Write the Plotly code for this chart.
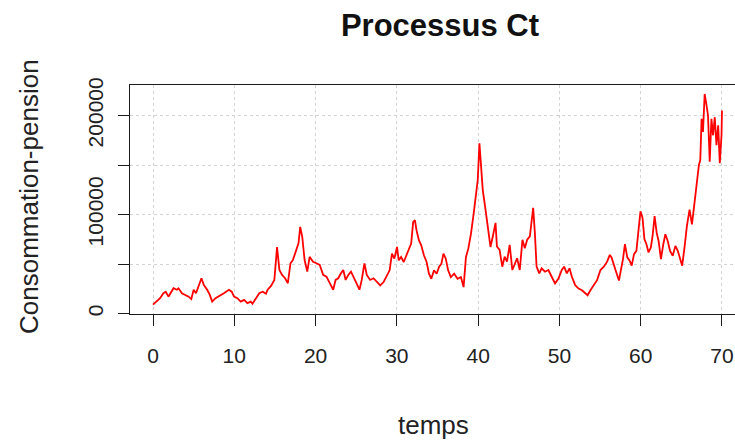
import plotly.graph_objects as go

# Time axis (years) and consumption-pension process Ct (in thousands)
temps = [
    0.0, 0.46, 0.87, 1.28, 1.57, 1.90, 2.23, 2.52, 2.94, 3.14, 3.56, 3.97, 4.38, 4.71,
    5.0, 5.29, 5.62, 5.96, 6.24, 6.66, 6.99, 7.28, 7.69, 8.19, 8.72, 9.34, 9.68, 9.97,
    10.38, 10.79, 11.21, 11.62, 12.03, 12.24, 12.66, 13.07, 13.49, 13.9, 14.1, 14.52,
    14.93, 15.26, 15.55, 15.88, 16.25, 16.59, 16.91, 17.21, 17.62, 17.9, 18.11, 18.36,
    18.65, 18.98, 19.27, 19.69, 20.1, 20.51, 20.93, 21.34, 21.75, 22.17, 22.46, 22.79,
    23.12, 23.41, 23.7, 24.03, 24.36, 24.65, 25.06, 25.4, 25.68, 26.01, 26.3, 26.71,
    27.13, 27.54, 27.95, 28.37, 28.78, 29.11, 29.4, 29.69, 30.02, 30.23, 30.52, 30.85,
    31.18, 31.47, 31.76, 32.01, 32.22, 32.42, 32.71, 33.0, 33.33, 33.66, 33.95, 34.24,
    34.57, 34.9, 35.19, 35.48, 35.73, 36.02, 36.31, 36.64, 37.05, 37.47, 37.88, 38.21,
    38.5, 38.79, 39.12, 39.45, 39.74, 39.95, 40.16, 40.36, 40.57, 40.86, 41.19, 41.52,
    41.81, 42.14, 42.31, 42.64, 42.97, 43.26, 43.55, 43.88, 44.21, 44.5, 44.79, 45.12,
    45.45, 45.74, 46.03, 46.36, 46.57, 46.77, 46.98, 47.19, 47.52, 47.81, 48.22, 48.64,
    49.05, 49.46, 49.88, 50.29, 50.58, 50.91, 51.24, 51.53, 51.94, 52.36, 52.77, 53.18,
    53.47, 53.81, 54.22, 54.63, 55.05, 55.46, 55.87, 56.2, 56.41, 56.7, 56.99, 57.32,
    57.57, 57.82, 58.06, 58.35, 58.64, 58.89, 59.18, 59.47, 59.72, 59.97, 60.22, 60.46,
    60.71, 60.96, 61.25, 61.46, 61.71, 61.96, 62.2, 62.49, 62.78, 63.03, 63.32, 63.61,
    63.94, 64.27, 64.56, 64.85, 65.1, 65.39, 65.68, 66.01, 66.3, 66.5, 66.75, 67.0,
    67.16, 67.33, 67.49, 67.66, 67.87, 68.07, 68.28, 68.49, 68.7, 68.9, 69.11, 69.32,
    69.53, 69.73, 69.94, 70.0,
]

ct_milliers = [
    9.0, 12.0, 15.5, 20.5, 22.0, 17.0, 21.5, 25.5, 24.0, 25.5, 20.5, 18.8, 17.0, 14.5,
    24.0, 20.5, 28.9, 35.6, 28.9, 24.0, 18.8, 12.0, 15.5, 17.8, 20.5, 24.0, 22.0, 17.0,
    15.5, 12.0, 13.7, 10.5, 12.0, 9.8, 15.5, 20.5, 22.0, 20.0, 24.0, 27.9,
    33.9, 67.0, 44.0, 39.0, 35.6, 30.6, 50.7, 54.0, 64.0, 70.8, 87.5, 77.5,
    54.0, 42.3, 57.3, 52.3, 50.7, 49.0, 39.0, 37.2, 30.6, 24.0, 33.9, 35.6,
    40.6, 44.0, 33.9, 39.0, 42.3, 37.2, 28.9, 24.0, 33.9, 50.7, 39.0, 33.9,
    35.6, 31.8, 28.4, 31.8, 38.5, 43.6, 60.5, 55.4, 67.2, 53.7, 57.1, 52.0,
    58.8, 63.9, 70.6, 92.6, 94.3, 84.1, 74.0, 68.9, 58.8, 52.0, 40.2, 35.1,
    43.6, 40.2, 47.0, 50.3, 60.5, 55.4, 43.6, 36.8, 40.2, 35.1, 36.8, 26.7,
    57.1, 65.5, 80.7, 101.0, 117.9, 134.8, 172.0, 148.3, 124.7, 107.8, 87.5, 67.2,
    78.0, 91.5, 67.7, 64.3, 47.3, 57.5, 52.4, 69.4, 43.9, 49.0, 55.8, 43.9,
    74.5, 66.0, 74.5, 77.9, 91.5, 106.8, 81.3, 47.3, 40.5, 45.6, 42.2, 43.9,
    37.1, 30.3, 35.4, 43.9, 47.3, 40.5, 45.6, 37.1, 28.6, 25.2, 23.5, 20.1,
    18.4, 23.5, 28.6, 33.7, 43.9, 47.3, 52.4, 59.2, 56.7, 48.3, 41.7, 33.3,
    43.3, 55.0, 70.0, 56.7, 53.3, 48.3, 60.0, 63.3, 83.3, 103.3, 96.7, 75.0,
    70.0, 61.7, 66.7, 78.3, 98.3, 81.7, 73.3, 55.0, 70.0, 80.0, 73.3, 63.3,
    58.3, 68.3, 63.3, 55.0, 48.3, 66.7, 88.3, 105.0, 90.0, 103.3, 120.0, 136.7,
    150.0, 155.0, 196.7, 183.3, 221.7, 211.7, 200.0, 153.3, 196.7, 180.0, 198.3, 170.0,
    190.0, 151.7, 180.0, 205.0,
]

x_ticks = [0, 10, 20, 30, 40, 50, 60, 70]
y_ticks = [0, 50000, 100000, 150000, 200000]
y_tick_text = ["0", "", "100000", "", "200000"]

ct = [v * 1000 for v in ct_milliers]

W, H = 735, 440
L, R, T, B = 130, 0, 85, 126
FONT = "Liberation Sans, Arial, sans-serif"


def px_x(px):
    return (px - L) / (W - L - R)


def px_y(py):
    return 1 - (py - T) / (H - T - B)


fig = go.Figure()
fig.add_trace(go.Scatter(
    x=temps, y=ct, mode="lines",
    line=dict(color="#ff0000", width=1.8),
    showlegend=False, hoverinfo="skip",
))

axis_common = dict(
    showgrid=True, gridcolor="#d3d3d3", gridwidth=1, griddash="dot",
    zeroline=False, showline=True, linecolor="#1a1a1a", linewidth=1.4,
    ticks="outside", ticklen=11, tickwidth=1.3, tickcolor="#1a1a1a",
    tickfont=dict(family=FONT, size=21, color="#222"),
)

fig.update_layout(
    width=W, height=H,
    margin=dict(l=L, r=R, t=T, b=B),
    paper_bgcolor="white", plot_bgcolor="white",
    title=dict(
        text="<b>Processus Ct</b>", font=dict(family=FONT, size=31, color="#111"),
        x=440 / W, xref="container", xanchor="center",
        y=1 - 25 / H, yref="container", yanchor="middle",
    ),
    xaxis=dict(
        range=[-2.83, 71.6], tickvals=x_ticks, mirror=True,
        ticklabelstandoff=12, **axis_common,
    ),
    yaxis=dict(
        range=[-500, 230800], tickvals=y_ticks, ticktext=y_tick_text,
        tickangle=-90, mirror=False, ticklabelstandoff=6, **axis_common,
    ),
    annotations=[
        dict(text="temps", x=px_x(433), y=px_y(425), xref="paper", yref="paper",
             showarrow=False, xanchor="center", yanchor="middle",
             font=dict(family=FONT, size=26, color="#222")),
        dict(text="Consommation-pension", x=px_x(29), y=px_y(197), xref="paper", yref="paper",
             showarrow=False, xanchor="center", yanchor="middle", textangle=-90,
             font=dict(family=FONT, size=26, color="#222")),
    ],
)

fig.write_html("out.html")
